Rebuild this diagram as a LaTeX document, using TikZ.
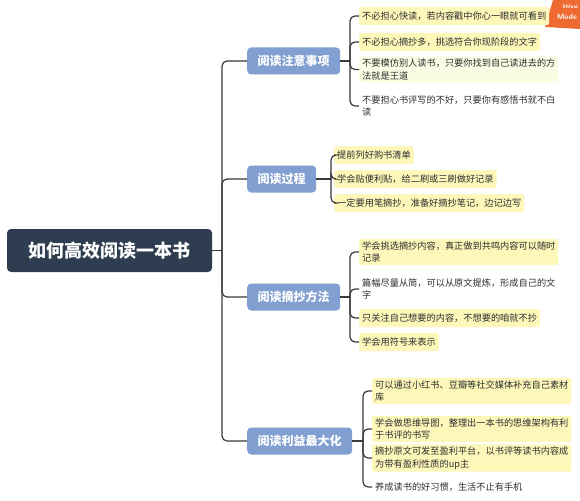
\documentclass[tikz,border=0pt]{standalone}
\usepackage{fontspec}
\newfontfamily\cjk{Noto Sans CJK SC}
\definecolor{rootc}{HTML}{2E3E50}
\definecolor{mainc}{HTML}{819FD0}
\definecolor{hl}{HTML}{FDF7BA}
\definecolor{hlpale}{HTML}{FAFCE4}
\definecolor{linec}{HTML}{3A3A3A}
\definecolor{txt}{HTML}{2E2E2E}
\definecolor{badge}{HTML}{EF6A31}
\begin{document}
\begin{tikzpicture}[x=1pt,y=-1pt,
  rootbox/.style={fill=rootc,text=white,rounded corners=4,minimum width=205,minimum height=43,inner sep=0,font={\cjk\bfseries\fontsize{18}{20}\selectfont}},
  mainbox/.style={anchor=west,fill=mainc,text=white,rounded corners=4,minimum height=27,inner xsep=10.5,inner ysep=0,font={\cjk\bfseries\fontsize{12}{14}\selectfont}},
  leaf/.style={anchor=west,text=txt,align=left,rounded corners=2,inner xsep=3,inner ysep=2.5,minimum height=18,font={\cjk\fontsize{9.2}{12.5}\selectfont}},
  yl/.style={leaf,fill=hl},
  pl/.style={leaf,fill=hlpale},
  conn/.style={draw=linec,line width=1.2,rounded corners=5}
]
\useasboundingbox (0,0) rectangle (580,500);
\fill[white] (0,0) rectangle (580,500);

% badge
\fill[badge] (553,0) -- (580,0) -- (580,29) -- (545,27) -- cycle;
\node[text=white,font={\sffamily\bfseries\fontsize{5}{6}\selectfont},inner sep=0] (bx) at (570,7) {XMind};
\node[text=white,font={\sffamily\bfseries\fontsize{7.5}{9}\selectfont},inner sep=0] (bm) at (567,17) {Mode};

% root
\node[rootbox] (root) at (109.5,250.5) {如何高效阅读一本书};

% main nodes
\node[mainbox] (m1) at (247,61) {阅读注意事项};
\node[mainbox] (m2) at (247,179) {阅读过程};
\node[mainbox] (m3) at (247,297) {阅读摘抄方法};
\node[mainbox] (m4) at (247,441) {阅读利益最大化};

% leaves group 1
\node[yl] (a1) at (359,16) {不必担心快读，若内容戳中你心一眼就可看到};
\node[yl] (a2) at (359,42) {不必担心摘抄多，挑选符合你现阶段的文字};
\node[pl] (a3) at (359,69.5) {不要模仿别人读书，只要你找到自己读进去的方\\法就是王道};
\node[leaf] (a4) at (359,106) {不要担心书评写的不好，只要你有感悟书就不白\\读};

% leaves group 2
\node[yl] (b1) at (334,155) {提前列好购书清单};
\node[yl] (b2) at (334,179) {学会贴便利贴，给二刷或三刷做好记录};
\node[yl] (b3) at (334,203) {一定要用笔摘抄，准备好摘抄笔记，边记边写};

% leaves group 3
\node[yl] (c1) at (359,252) {学会挑选摘抄内容，真正做到共鸣内容可以随时\\记录};
\node[leaf] (c2) at (359,289) {篇幅尽量从简，可以从原文提炼，形成自己的文\\字};
\node[yl] (c3) at (359,318) {只关注自己想要的内容，不想要的咱就不抄};
\node[yl] (c4) at (359,342) {学会用符号来表示};

% leaves group 4
\node[yl] (d1) at (372,391) {可以通过小红书、豆瓣等社交媒体补充自己素材\\库};
\node[yl] (d2) at (372,429) {学会做思维导图，整理出一本书的思维架构有利\\于书评的书写};
\node[yl] (d3) at (372,458) {摘抄原文可发至盈利平台，以书评等读书内容成\\为带有盈利性质的up主};
\node[leaf] (d4) at (372,487) {养成读书的好习惯，生活不止有手机};

% trunk
\coordinate (t) at (222,250.5);
\draw[conn] (root.east) -- (t);
\foreach \m in {m1,m2,m3,m4} \draw[conn] (t) |- (\m.west);

% brackets
\coordinate (k1) at (350,61);
\coordinate (k2) at (331,179);
\coordinate (k3) at (350,297);
\coordinate (k4) at (363,441);
\draw[conn] (m1.east) -- (k1);
\draw[conn] (m2.east) -- (k2);
\draw[conn] (m3.east) -- (k3);
\draw[conn] (m4.east) -- (k4);
\foreach \l in {a1,a2,a3,a4} \draw[conn] (k1) |- (\l.west);
\foreach \l in {b1,b2,b3} \draw[conn] (k2) |- (\l.west);
\foreach \l in {c1,c2,c3,c4} \draw[conn] (k3) |- (\l.west);
\foreach \l in {d1,d2,d3,d4} \draw[conn] (k4) |- (\l.west);
\end{tikzpicture}
\end{document}
